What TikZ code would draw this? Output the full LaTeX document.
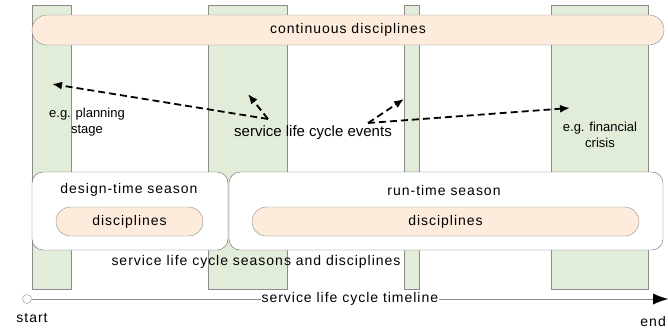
\documentclass[tikz,border=0pt]{standalone}
\usepackage{fontspec}
\setmainfont{Liberation Sans}
\newfontfamily\spacedfont[LetterSpace=7]{Liberation Sans}
\usetikzlibrary{arrows.meta,positioning}

\definecolor{colgreen}{RGB}{226,237,217}
\definecolor{peach}{RGB}{253,235,220}
\definecolor{edgegray}{RGB}{140,140,140}

\begin{document}
\begin{tikzpicture}[x=1pt,y=-1pt,
    column/.style={draw=edgegray, fill=colgreen, minimum height=284pt, inner sep=0pt},
    pill/.style={draw=edgegray, fill=peach, inner sep=0pt},
    season/.style={draw=black!60, fill=white, rounded corners=11pt, minimum height=78pt, inner sep=0pt},
    label/.style={font=\spacedfont\fontsize{14}{16}\selectfont, inner sep=1pt},
    note/.style={font=\fontsize{13}{15.5}\selectfont, align=center, inner sep=0pt},
    evarrow/.style={line width=1.8pt, dash pattern=on 7pt off 4pt, -{Latex[length=10pt,width=8pt]}}]
  \useasboundingbox (0,0) rectangle (668,333);

  % stages on the timeline
  \node[column, minimum width=39pt] (plan) at (51.5,147) {};
  \node[column, minimum width=79pt] (mid)  at (247.5,147) {};
  \node[column, minimum width=15pt] (thin) at (411.5,147) {};
  \node[column, minimum width=97pt] (crisis) at (599.5,147) {};

  \node[pill, rounded corners=15pt, minimum width=632pt, minimum height=30pt] (cont) at (348,30) {};
  \node[label] at (cont) {continuous disciplines};

  % seasons
  \node[season, minimum width=196pt] (design) at (130,211) {};
  \node[season, minimum width=434pt] (run) at (446,211) {};
  \node[label] (dlabel) at (129,190) {design-time season};
  \node[label] (rlabel) at (444,190) {run-time season};
  \node[pill, rounded corners=14.5pt, minimum width=147pt, minimum height=29pt] (ddisc) at (129.5,221.5) {};
  \node[label] at (ddisc) {disciplines};
  \node[pill, rounded corners=14.5pt, minimum width=387pt, minimum height=29pt] (rdisc) at (445.5,221.5) {};
  \node[label] at (rdisc) {disciplines};
  \node[label] (seasons) at (256,262) {service life cycle seasons and disciplines};

  % events
  \node[note, font=\fontsize{15}{17}\selectfont] (events) at (313,133) {service life cycle events};
  \node[note] (plantext) at (87,122) {e.g. planning\\stage};
  \node[note] (crisistext) at (600,135) {e.g. financial\\crisis};

  \coordinate (ev1) at (268,119);
  \coordinate (ev2) at (368,123);
  \coordinate (toplan) at (52,84);
  \coordinate (tomid) at (248,94);
  \coordinate (tothin) at (404,99);
  \coordinate (tocrisis) at (570,108);
  \draw[evarrow] (ev1) -- (toplan);
  \draw[evarrow] (ev1) -- (tomid);
  \draw[evarrow] (ev2) -- (tothin);
  \draw[evarrow] (ev2) -- (tocrisis);

  % timeline
  \node[circle, draw=edgegray, fill=white, minimum size=9pt, inner sep=0pt] (t0) at (27,299) {};
  \coordinate (t1) at (668,299);
  \draw[edgegray, -{Latex[length=15pt,width=11pt,black]}] (t0) -- (t1)
    node[midway, fill=white, text=black, label] {service life cycle timeline};
  \node[label] (start) at (32,318) {start};
  \node[label, anchor=east] (end) at (667,321) {end};
\end{tikzpicture}
\end{document}
